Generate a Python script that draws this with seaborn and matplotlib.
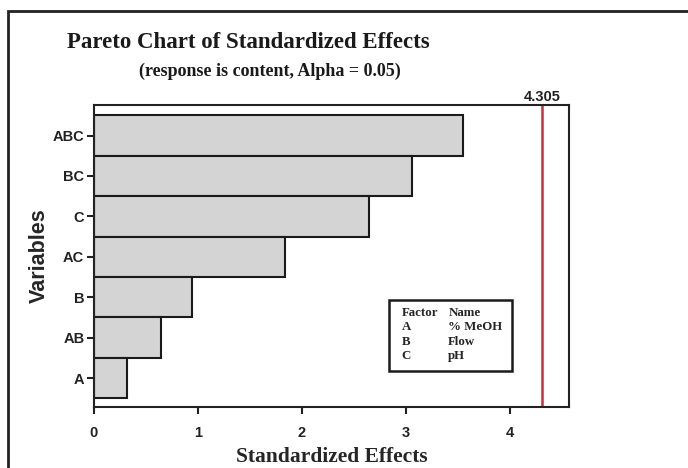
import matplotlib
matplotlib.use("Agg")
import matplotlib.pyplot as plt
from matplotlib.patches import Rectangle
import seaborn as sns
import pandas as pd

terms = ["ABC", "BC", "C", "AC", "B", "AB", "A"]
effects = [3.545, 3.055, 2.647, 1.837, 0.945, 0.647, 0.32]
critical = 4.305
factors = ["A", "B", "C"]
names = ["% MeOH", "Flow", "pH"]

df = pd.DataFrame({"term": terms, "effect": effects})

sns.set_theme(style="white")
serif = ["Liberation Serif", "DejaVu Serif"]
sans = ["Liberation Sans", "DejaVu Sans"]
plt.rcParams["font.family"] = sans

fig = plt.figure(figsize=(6.88, 4.68), dpi=100)
ax = fig.add_axes([94/688, 1-406.7/468, (569.3-94)/688, (406.7-105)/468])

sns.barplot(data=df, y="term", x="effect", order=terms, orient="h",
            color="#d4d4d4", edgecolor="#1a1a1a", linewidth=1.5,
            width=1.0, saturation=1, ax=ax)

ax.set_xlim(0, 4.57)
ax.set_ylim(6.71, -0.757)
ax.axvline(critical, color="#c8303a", lw=1.8)
ax.text(critical, -0.78, f"{critical:.3f}", ha="center", va="bottom",
        fontsize=10.5, fontweight="bold", family=sans, color="#222222")

ax.set_xticks([0, 1, 2, 3, 4])
ax.tick_params(axis="both", direction="out", length=5, width=1.5,
               colors="#222222", labelsize=10.5, bottom=True, left=True)
for lbl in ax.get_xticklabels() + ax.get_yticklabels():
    lbl.set_fontweight("bold")
    lbl.set_family(sans)
ax.tick_params(axis="x", pad=9)
ax.tick_params(axis="y", pad=2)
for s in ax.spines.values():
    s.set_linewidth(1.5)
    s.set_color("#222222")

ax.set_ylabel("Variables", fontsize=15.5, fontweight="bold", family=sans,
              labelpad=2)
ax.set_xlabel("Standardized Effects", fontsize=15.5, fontweight="bold",
              family=serif, labelpad=5)

fig.text(248/688, 1-43/468, "Pareto Chart of Standardized Effects",
         ha="center", va="center", fontsize=16.5, fontweight="bold",
         family=serif, color="#1a1a1a")
fig.text(270/688, 1-71/468, "(response is content, Alpha = 0.05)",
         ha="center", va="center", fontsize=13, fontweight="bold",
         family=serif, color="#1a1a1a")

# factor key box
box = Rectangle((389.3/688, 1-371/468), (511.7-389.3)/688, (371-300)/468,
                transform=fig.transFigure, fill=True, facecolor="white",
                edgecolor="#1a1a1a", lw=1.8, zorder=5)
fig.patches.append(box)
rows_y = [312.7, 327, 341.7, 356]
fig.text(401.7/688, 1-rows_y[0]/468, "Factor", ha="left", va="center",
         fontsize=9.3, fontweight="bold", family=serif, zorder=6)
fig.text(448.3/688, 1-rows_y[0]/468, "Name", ha="left", va="center",
         fontsize=9.3, fontweight="bold", family=serif, zorder=6)
for f, n, yy in zip(factors, names, rows_y[1:]):
    fig.text(401.7/688, 1-yy/468, f, ha="left", va="center",
             fontsize=9.3, fontweight="bold", family=serif, zorder=6)
    fig.text(448.3/688, 1-yy/468, n, ha="left", va="center",
             fontsize=9.3, fontweight="bold", family=serif, zorder=6)

# outer frame
frame = Rectangle((8.3/688, -0.2), 1.2, 1.2 - 11/468,
                  transform=fig.transFigure, fill=False,
                  edgecolor="#222222", lw=2)
fig.patches.append(frame)

fig.savefig("out.png", dpi=100)
